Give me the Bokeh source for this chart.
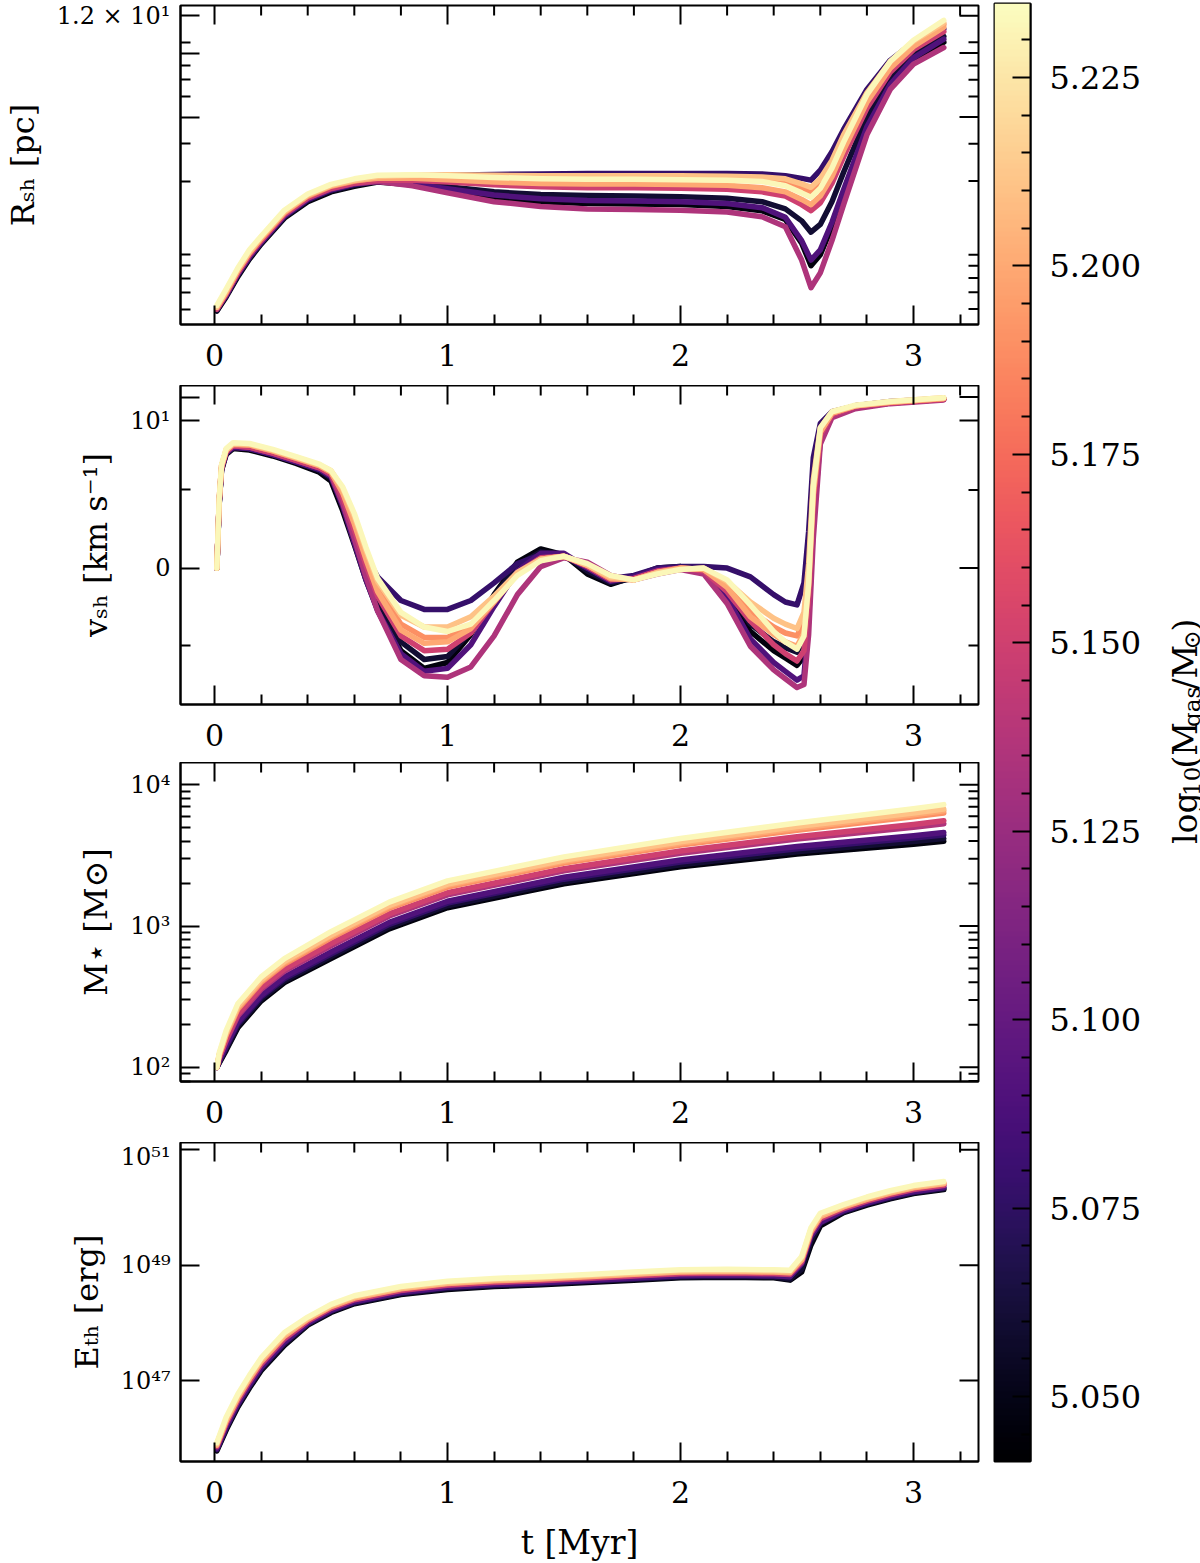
import numpy as np
from math import pi, log10

from bokeh.core.properties import value
from bokeh.embed import file_html
from bokeh.layouts import column, row
from bokeh.models import (ColumnDataSource, FixedTicker, LinearColorMapper,
                          PrintfTickFormatter, Range1d)
from bokeh.palettes import Magma256
from bokeh.plotting import figure
from bokeh.resources import INLINE

SERIF = "DejaVu Serif"

# log10 of the gas mass of each model cloud (one curve per cloud)
log_mgas = [5.046, 5.060, 5.078, 5.090, 5.135, 5.150, 5.190, 5.200, 5.210, 5.232]

# shell radius [pc]
t_rsh = [0.01, 0.05, 0.1, 0.15, 0.2, 0.3, 0.4, 0.5, 0.6, 0.7, 0.85, 1.0, 1.2, 1.4, 1.6,
         1.8, 2.0, 2.2, 2.35, 2.45, 2.52, 2.56, 2.6, 2.65, 2.7, 2.8, 2.9, 3.0, 3.13]
rsh_pc = [
    [0.49, 0.57, 0.71, 0.86, 1.01, 1.34, 1.60, 1.78, 1.89, 1.98, 1.92, 1.80, 1.67, 1.60, 1.57,
     1.56, 1.55, 1.52, 1.45, 1.32, 1.02, 0.80, 0.90, 1.22, 1.75, 3.5, 5.6, 7.4, 9.0],
    [0.49, 0.58, 0.72, 0.87, 1.02, 1.35, 1.62, 1.80, 1.91, 2.00, 1.96, 1.88, 1.78, 1.73, 1.71,
     1.70, 1.69, 1.66, 1.60, 1.48, 1.30, 1.15, 1.25, 1.60, 2.2, 4.0, 6.1, 7.9, 9.6],
    [0.50, 0.58, 0.73, 0.88, 1.03, 1.37, 1.64, 1.82, 1.94, 2.05, 2.10, 2.13, 2.15, 2.16, 2.17,
     2.17, 2.17, 2.17, 2.16, 2.12, 2.06, 2.02, 2.25, 2.75, 3.5, 5.4, 7.4, 9.0, 10.4],
    [0.50, 0.58, 0.73, 0.88, 1.03, 1.37, 1.64, 1.82, 1.93, 1.99, 1.94, 1.84, 1.72, 1.65, 1.62,
     1.61, 1.60, 1.57, 1.50, 1.35, 1.05, 0.85, 0.95, 1.28, 1.82, 3.6, 5.7, 7.6, 9.3],
    [0.50, 0.59, 0.74, 0.90, 1.05, 1.39, 1.66, 1.84, 1.95, 1.99, 1.90, 1.76, 1.60, 1.52, 1.48,
     1.47, 1.46, 1.43, 1.36, 1.22, 0.85, 0.63, 0.74, 1.05, 1.55, 3.3, 5.4, 7.1, 8.5],
    [0.50, 0.59, 0.74, 0.90, 1.05, 1.40, 1.67, 1.85, 1.96, 2.02, 2.02, 1.98, 1.92, 1.88, 1.86,
     1.86, 1.85, 1.83, 1.78, 1.70, 1.55, 1.45, 1.58, 1.95, 2.6, 4.4, 6.5, 8.3, 10.1],
    [0.51, 0.60, 0.76, 0.92, 1.07, 1.42, 1.70, 1.89, 2.00, 2.08, 2.12, 2.12, 2.10, 2.09, 2.09,
     2.09, 2.09, 2.08, 2.05, 1.98, 1.85, 1.76, 1.92, 2.35, 3.1, 5.0, 7.1, 8.9, 10.9],
    [0.51, 0.60, 0.76, 0.92, 1.08, 1.43, 1.71, 1.90, 2.01, 2.06, 2.06, 2.03, 1.98, 1.95, 1.94,
     1.94, 1.93, 1.91, 1.86, 1.78, 1.64, 1.55, 1.70, 2.10, 2.8, 4.7, 6.8, 8.6, 10.6],
    [0.51, 0.61, 0.77, 0.93, 1.09, 1.44, 1.72, 1.91, 2.02, 2.10, 2.13, 2.14, 2.13, 2.12, 2.12,
     2.12, 2.12, 2.11, 2.09, 2.05, 1.94, 1.87, 2.05, 2.50, 3.3, 5.2, 7.3, 9.1, 11.1],
    [0.52, 0.62, 0.78, 0.95, 1.10, 1.46, 1.74, 1.93, 2.05, 2.13, 2.14, 2.12, 2.08, 2.05, 2.04,
     2.04, 2.03, 2.02, 1.99, 1.90, 1.76, 1.68, 1.85, 2.30, 3.05, 5.1, 7.3, 9.2, 11.4],
]

# shell velocity [km/s]
t_vsh = [0.01, 0.02, 0.03, 0.05, 0.08, 0.15, 0.25, 0.35, 0.45,
         0.5, 0.55, 0.6, 0.65, 0.7, 0.8, 0.9, 1.0, 1.1, 1.2, 1.3, 1.4, 1.5, 1.6, 1.7, 1.8, 1.9, 2.0,
         2.1, 2.2, 2.3, 2.4, 2.45, 2.5, 2.53, 2.55, 2.57, 2.6, 2.65, 2.75, 2.9, 3.13]
vsh_kms = [
    [0.0, 4.3, 6.6, 7.7, 8.1, 8.0, 7.6, 7.1, 6.5,
     5.9, 3.9, 1.6, -0.8, -2.8, -5.6, -6.8, -6.4, -4.5, -1.8, 0.4, 1.3, 0.9, -0.4, -1.1, -0.6, 0.0, 0.1,
     -0.3, -1.8, -4.3, -5.6, -6.1, -6.6, -6.0, -2.0, 4.0, 9.0, 10.4, 10.9, 11.2, 11.45],
    [0.0, 4.4, 6.7, 7.8, 8.2, 8.1, 7.7, 7.2, 6.6,
     6.1, 4.3, 2.0, -0.4, -2.4, -5.0, -6.2, -6.0, -4.3, -1.9, 0.2, 1.1, 0.9, -0.2, -1.0, -0.7, -0.1, 0.1,
     -0.2, -1.5, -3.8, -5.0, -5.4, -5.7, -4.8, -1.0, 5.0, 9.2, 10.5, 11.0, 11.25, 11.5],
    [0.0, 4.4, 6.7, 7.8, 8.2, 8.1, 7.7, 7.2, 6.7,
     6.3, 4.8, 2.8, 0.8, -0.6, -2.2, -2.8, -2.8, -2.2, -1.0, 0.3, 0.9, 0.8, 0.0, -0.7, -0.5, 0.0, 0.1,
     0.1, 0.0, -0.6, -1.8, -2.3, -2.5, -1.0, 2.5, 7.5, 9.8, 10.6, 11.0, 11.3, 11.5],
    [0.0, 4.4, 6.7, 7.8, 8.2, 8.1, 7.7, 7.2, 6.7,
     6.2, 4.2, 1.7, -0.8, -2.9, -5.8, -7.0, -6.8, -5.2, -2.6, -0.2, 1.0, 1.0, 0.0, -0.9, -0.6, -0.1, 0.0,
     -0.3, -2.0, -4.8, -6.4, -7.0, -7.6, -7.3, -3.5, 3.0, 8.7, 10.3, 10.9, 11.2, 11.45],
    [0.0, 4.5, 6.8, 7.9, 8.3, 8.2, 7.8, 7.3, 6.8,
     6.3, 4.4, 2.0, -0.6, -2.9, -6.2, -7.3, -7.4, -6.7, -4.6, -1.8, 0.1, 0.7, 0.4, -0.5, -0.8, -0.4, -0.1,
     -0.4, -2.4, -5.3, -6.9, -7.5, -8.1, -7.9, -4.5, 2.0, 8.4, 10.2, 10.8, 11.15, 11.4],
    [0.0, 4.5, 6.8, 7.9, 8.3, 8.2, 7.8, 7.3, 6.8,
     6.4, 4.8, 2.6, 0.2, -1.9, -4.6, -5.6, -5.5, -4.4, -2.3, -0.3, 0.7, 0.8, 0.1, -0.8, -0.7, -0.2, 0.0,
     -0.2, -1.6, -3.6, -5.2, -5.8, -6.3, -5.6, -2.0, 4.5, 9.0, 10.4, 10.95, 11.2, 11.45],
    [0.0, 4.6, 6.9, 8.0, 8.4, 8.35, 7.95, 7.45, 6.95,
     6.5, 5.2, 3.2, 0.8, -1.3, -3.8, -4.7, -4.7, -3.9, -2.2, -0.4, 0.6, 0.8, 0.2, -0.7, -0.8, -0.3, 0.0,
     -0.1, -1.1, -2.9, -4.0, -4.4, -4.6, -3.6, -0.5, 5.5, 9.3, 10.5, 11.0, 11.25, 11.5],
    [0.0, 4.6, 6.9, 8.0, 8.4, 8.35, 7.95, 7.45, 6.95,
     6.5, 5.1, 3.0, 0.6, -1.6, -4.2, -5.1, -5.0, -4.1, -2.3, -0.4, 0.6, 0.8, 0.2, -0.7, -0.8, -0.3, 0.0,
     -0.1, -1.3, -3.3, -4.5, -5.0, -5.3, -4.4, -1.2, 5.0, 9.2, 10.5, 11.0, 11.25, 11.5],
    [0.0, 4.6, 6.9, 8.0, 8.45, 8.4, 8.0, 7.5, 7.0,
     6.6, 5.4, 3.5, 1.2, -0.9, -3.2, -4.0, -4.0, -3.3, -1.9, -0.3, 0.6, 0.8, 0.2, -0.6, -0.8, -0.3, -0.1,
     0.0, -0.9, -2.3, -3.4, -3.8, -4.1, -3.0, 0.3, 6.0, 9.5, 10.6, 11.0, 11.3, 11.55],
    [0.0, 4.7, 7.0, 8.1, 8.5, 8.45, 8.05, 7.55, 7.05,
     6.6, 5.5, 3.7, 1.4, -0.7, -3.0, -4.0, -4.3, -3.8, -2.2, -0.5, 0.5, 0.8, 0.3, -0.5, -0.8, -0.4, -0.1,
     0.0, -0.8, -2.5, -4.3, -5.0, -5.5, -4.6, -1.0, 5.5, 9.5, 10.6, 11.05, 11.3, 11.55],
]

# stellar mass formed [Msun]
t_mstar = [0.01, 0.02, 0.05, 0.1, 0.2, 0.3, 0.5, 0.75, 1.0, 1.5, 2.0, 2.5, 3.0, 3.13]
mstar_msun = [
    [100, 107, 132, 191, 295, 398, 589, 955, 1349, 1995, 2630, 3236, 3802, 3981],
    [100, 108, 135, 197, 304, 410, 608, 987, 1393, 2061, 2722, 3362, 3973, 4164],
    [100, 110, 140, 204, 315, 425, 634, 1029, 1453, 2149, 2843, 3524, 4194, 4407],
    [100, 111, 143, 210, 324, 437, 655, 1062, 1500, 2218, 2938, 3657, 4365, 4590],
    [100, 116, 154, 231, 356, 481, 726, 1178, 1663, 2460, 3280, 4129, 5011, 5311],
    [100, 117, 158, 238, 367, 496, 752, 1219, 1721, 2546, 3403, 4294, 5247, 5573],
    [100, 121, 169, 258, 399, 538, 825, 1337, 1889, 2793, 3750, 4776, 5931, 6310],
    [100, 122, 172, 264, 408, 551, 848, 1374, 1941, 2871, 3856, 4932, 6137, 6545],
    [100, 123, 175, 270, 417, 562, 865, 1403, 1982, 2931, 3945, 5058, 6311, 6744],
    [100, 126, 182, 282, 436, 589, 912, 1479, 2089, 3090, 4169, 5372, 6761, 7244],
]

# thermal energy of the bubble [erg]
t_eth = [0.01, 0.05, 0.1, 0.15, 0.2, 0.3, 0.4, 0.5, 0.6, 0.8, 1.0, 1.2, 1.4, 1.6, 1.8, 2.0,
         2.2, 2.4, 2.47, 2.52, 2.56, 2.6, 2.7, 2.8, 2.9, 3.0, 3.13]
eth_erg = [
    [6.0e45, 1.38e46, 3.47e46, 7.41e46, 1.48e47, 4.07e47, 9.1e47, 1.51e48, 2.14e48, 3.09e48,
     3.80e48, 4.26e48, 4.57e48, 5.01e48, 5.50e48, 6.03e48, 6.16e48, 6.03e48, 5.50e48, 7.59e48,
     2.24e49, 4.79e49, 8.13e49, 1.10e50, 1.41e50, 1.74e50, 2.04e50],
    [6.24e45, 1.45e46, 3.65e46, 7.80e46, 1.56e47, 4.29e47, 9.43e47, 1.57e48, 2.21e48, 3.20e48,
     3.94e48, 4.41e48, 4.73e48, 5.19e48, 5.69e48, 6.24e48, 6.38e48, 6.24e48, 5.75e48, 8.51e48,
     2.63e49, 5.25e49, 8.41e49, 1.14e50, 1.46e50, 1.80e50, 2.11e50],
    [6.46e45, 1.54e46, 3.86e46, 8.24e46, 1.65e47, 4.53e47, 9.76e47, 1.62e48, 2.29e48, 3.31e48,
     4.08e48, 4.57e48, 4.90e48, 5.37e48, 5.89e48, 6.46e48, 6.60e48, 6.46e48, 6.31e48, 1.12e49,
     3.55e49, 5.62e49, 8.71e49, 1.18e50, 1.51e50, 1.86e50, 2.19e50],
    [6.61e45, 1.59e46, 4.00e46, 8.55e46, 1.71e47, 4.70e47, 9.98e47, 1.66e48, 2.34e48, 3.39e48,
     4.17e48, 4.67e48, 5.01e48, 5.50e48, 6.03e48, 6.61e48, 6.75e48, 6.61e48, 6.31e48, 1.05e49,
     3.16e49, 5.50e49, 8.91e49, 1.20e50, 1.55e50, 1.90e50, 2.24e50],
    [7.08e45, 1.78e46, 4.47e46, 9.55e46, 1.91e47, 5.25e47, 1.07e48, 1.78e48, 2.51e48, 3.63e48,
     4.47e48, 5.01e48, 5.37e48, 5.89e48, 6.46e48, 7.08e48, 7.24e48, 7.08e48, 6.92e48, 1.12e49,
     3.55e49, 6.31e49, 9.55e49, 1.29e50, 1.66e50, 2.04e50, 2.40e50],
    [7.24e45, 1.85e46, 4.65e46, 9.93e46, 1.99e47, 5.46e47, 1.09e48, 1.82e48, 2.57e48, 3.71e48,
     4.57e48, 5.13e48, 5.49e48, 6.03e48, 6.61e48, 7.24e48, 7.41e48, 7.24e48, 7.08e48, 1.17e49,
     3.72e49, 6.61e49, 9.77e49, 1.32e50, 1.70e50, 2.09e50, 2.46e50],
    [7.76e45, 2.06e46, 5.19e46, 1.11e47, 2.22e47, 6.09e47, 1.17e48, 1.95e48, 2.75e48, 3.98e48,
     4.90e48, 5.49e48, 5.89e48, 6.46e48, 7.08e48, 7.76e48, 7.94e48, 7.76e48, 7.59e48, 1.26e49,
     3.98e49, 7.08e49, 1.05e50, 1.41e50, 1.82e50, 2.24e50, 2.63e50],
    [7.59e45, 1.99e46, 4.99e46, 1.07e47, 2.13e47, 5.86e47, 1.15e48, 1.91e48, 2.69e48, 3.89e48,
     4.79e48, 5.37e48, 5.76e48, 6.31e48, 6.93e48, 7.59e48, 7.76e48, 7.59e48, 7.41e48, 1.23e49,
     3.89e49, 6.92e49, 1.02e50, 1.38e50, 1.78e50, 2.19e50, 2.57e50],
    [7.94e45, 2.14e46, 5.37e46, 1.15e47, 2.30e47, 6.31e47, 1.20e48, 2.00e48, 2.82e48, 4.07e48,
     5.02e48, 5.62e48, 6.03e48, 6.61e48, 7.25e48, 7.94e48, 8.12e48, 7.94e48, 7.76e48, 1.32e49,
     4.17e49, 7.41e49, 1.07e50, 1.45e50, 1.86e50, 2.29e50, 2.69e50],
    [8.32e45, 2.30e46, 5.77e46, 1.23e47, 2.46e47, 6.77e47, 1.26e48, 2.09e48, 2.95e48, 4.27e48,
     5.25e48, 5.89e48, 6.31e48, 6.92e48, 7.59e48, 8.32e48, 8.51e48, 8.32e48, 8.13e48, 1.41e49,
     4.47e49, 7.94e49, 1.12e50, 1.52e50, 1.95e50, 2.40e50, 2.82e50],
]

# axis ticks and labels
t_major = [0, 1, 2, 3]
t_minor = [0.2, 0.4, 0.6, 0.8, 1.2, 1.4, 1.6, 1.8, 2.2, 2.4, 2.6, 2.8, 3.2]
rsh_major = [4, 8, 12]
rsh_minor = [0.5, 0.6, 0.7, 0.8, 0.9, 2, 3, 5, 6, 7, 9]
rsh_labels = {12: "1.2 × 10¹", 8: "", 4: ""}
vsh_major = [0, 10, 11.6]
vsh_minor = [-5.25, 5.3]
vsh_labels = {0: "0", 10: "10¹", 11.6: ""}
mstar_major = [100, 1000, 10000]
mstar_minor = [80, 90, 200, 300, 400, 500, 600, 700, 800, 900,
               2000, 3000, 4000, 5000, 6000, 7000, 8000, 9000]
mstar_labels = {100: "10²", 1000: "10³", 10000: "10⁴"}
eth_major = [1e47, 1e49, 1e51]
eth_minor = []
eth_labels = {1e47: "10⁴⁷", 1e49: "10⁴⁹", 1e51: "10⁵¹"}
cbar_major = [5.050, 5.075, 5.100, 5.125, 5.150, 5.175, 5.200, 5.225]
cbar_minor = [5.045, 5.055, 5.060, 5.065, 5.070, 5.080, 5.085, 5.090, 5.095, 5.105, 5.110,
              5.115, 5.120, 5.130, 5.135, 5.140, 5.145, 5.155, 5.160, 5.165, 5.170, 5.180,
              5.185, 5.190, 5.195, 5.205, 5.210, 5.215, 5.220, 5.230]
CB_LOW, CB_HIGH = 5.0414, 5.2348

mapper = LinearColorMapper(palette=Magma256, low=CB_LOW, high=CB_HIGH)

FRAME_W, FRAME_H = 798, 319
T_RANGE = (-0.146, 3.279)
MAJOR_LEN, MINOR_LEN = 19, 10


def style_axis(ax, label_size, standoff):
    ax.axis_line_width = 2
    ax.axis_line_color = "black"
    ax.major_tick_in = MAJOR_LEN
    ax.major_tick_out = 0
    ax.minor_tick_in = MINOR_LEN
    ax.minor_tick_out = 0
    ax.major_tick_line_width = 2
    ax.minor_tick_line_width = 2
    ax.major_tick_line_color = "black"
    ax.minor_tick_line_color = "black"
    ax.major_label_text_font = SERIF
    ax.major_label_text_color = "black"
    ax.major_label_text_font_size = label_size
    ax.major_label_standoff = standoff


def mirror_ticks(p, y_rng, y_log, y_major, y_minor):
    """Inward ticks on the top and right frame edges."""
    xa, xb = T_RANGE
    ya, yb = y_rng
    dx = (xb - xa) / FRAME_W

    def below_top(n):
        if y_log:
            return yb / 10 ** (n * (log10(yb) - log10(ya)) / FRAME_H)
        return yb - n * (yb - ya) / FRAME_H

    for ticks, n in ((t_major, MAJOR_LEN), (t_minor, MINOR_LEN)):
        p.segment(x0=ticks, y0=[yb] * len(ticks), x1=ticks, y1=[below_top(n)] * len(ticks),
                  line_color="black", line_width=2)
    for ticks, n in ((y_major, MAJOR_LEN), (y_minor, MINOR_LEN)):
        if not ticks:
            continue
        p.segment(x0=[xb] * len(ticks), y0=ticks, x1=[xb - n * dx] * len(ticks), y1=ticks,
                  line_color="black", line_width=2)


def make_panel(ts, curves, y_range, y_type, y_major, y_minor, y_labels, y_title,
               border_top, border_bottom, x_title=None):
    p = figure(frame_width=FRAME_W, frame_height=FRAME_H,
               x_range=Range1d(*T_RANGE), y_range=Range1d(*y_range),
               y_axis_type=y_type, output_backend="svg", toolbar_location=None,
               min_border_left=179, min_border_right=8,
               min_border_top=border_top, min_border_bottom=border_bottom,
               background_fill_color="white", border_fill_color="white",
               outline_line_color="black", outline_line_width=2)
    p.grid.visible = False

    src = ColumnDataSource(dict(xs=[ts] * len(curves), ys=curves, mgas=log_mgas))
    p.multi_line(xs="xs", ys="ys", source=src, line_width=5.5,
                 line_color={"field": "mgas", "transform": mapper},
                 line_cap="round", line_join="round")
    mirror_ticks(p, y_range, y_type == "log", y_major, y_minor)

    xb = p.xaxis[0]
    xb.ticker = FixedTicker(ticks=t_major, minor_ticks=t_minor)
    style_axis(xb, "30px", 19)
    if x_title:
        xb.axis_label = x_title
        xb.axis_label_text_font = SERIF
        xb.axis_label_text_font_size = "33px"
        xb.axis_label_text_font_style = "normal"
        xb.axis_label_text_color = "black"
        xb.axis_label_standoff = 17

    yl = p.yaxis[0]
    yl.ticker = FixedTicker(ticks=y_major, minor_ticks=y_minor)
    yl.formatter = PrintfTickFormatter(format="%g")
    yl.major_label_overrides = y_labels
    style_axis(yl, "24px", 10)
    yl.axis_label = y_title
    yl.axis_label_text_font = SERIF
    yl.axis_label_text_font_size = "32px"
    yl.axis_label_text_font_style = "normal"
    yl.axis_label_text_color = "black"
    yl.axis_label_standoff = 12
    return p


p_r = make_panel(t_rsh, rsh_pc, (0.423, 13.4), "log", rsh_major, rsh_minor, rsh_labels,
                 "Rₛₕ [pc]", 5, 61)
p_v = make_panel(t_vsh, vsh_kms, (-9.25, 12.38), "linear", vsh_major, vsh_minor, vsh_labels,
                 "vₛₕ [km s⁻¹]", 0, 58)
p_m = make_panel(t_mstar, mstar_msun, (79.4, 14390), "log", mstar_major, mstar_minor,
                 mstar_labels, "M⋆ [M⊙]", 0, 61)
p_e = make_panel(t_eth, eth_erg, (3.94e45, 1.34e51), "log", eth_major, eth_minor, eth_labels,
                 "Eₜₕ [erg]", 0, 102, x_title="t [Myr]")

TOTAL_H = 1563

# colour bar for the gas mass
cb = figure(frame_width=36, frame_height=1458, x_range=Range1d(0, 1),
            y_range=Range1d(CB_LOW, CB_HIGH), min_border_left=8, min_border_right=122,
            min_border_top=3, min_border_bottom=TOTAL_H - 3 - 1458,
            x_axis_location=None, y_axis_location="right", toolbar_location=None,
            output_backend="svg", outline_line_color="black", outline_line_width=2,
            background_fill_color="white", border_fill_color="white")
cb.grid.visible = False
levels = np.linspace(CB_LOW, CB_HIGH, 600).reshape(-1, 1)
cb.image(image=[levels], x=0, y=CB_LOW, dw=1, dh=CB_HIGH - CB_LOW, color_mapper=mapper)
ya = cb.yaxis[0]
ya.ticker = FixedTicker(ticks=cbar_major, minor_ticks=cbar_minor)
ya.formatter = PrintfTickFormatter(format="%.3f")
style_axis(ya, "32px", 19)
ya.major_tick_in = 18
ya.minor_tick_in = 9

# rotated colour-bar title, built from pieces so the subscripts sit low
LAB_W = 49
lab = figure(width=LAB_W, height=TOTAL_H, x_range=Range1d(0, LAB_W), y_range=Range1d(0, TOTAL_H),
             min_border=0, x_axis_location=None, y_axis_location=None, toolbar_location=None,
             output_backend="svg", outline_line_color=None,
             background_fill_color="white", border_fill_color="white")
lab.grid.visible = False
title_parts = ["log", "10", "(M", "gas", "/M", "⊙", ")"]
title_is_sub = [False, True, False, True, False, True, False]
part_len = [51.5, 29.3, 44.6, 40.2, 42.8, 19.3, 12.9]
y0 = 662.0
main_x, main_y, main_t, sub_x, sub_y, sub_t = [], [], [], [], [], []
for txt, sub, ln in zip(title_parts, title_is_sub, part_len):
    if sub:
        sub_x.append(39); sub_y.append(y0); sub_t.append(txt)
    else:
        main_x.append(33); main_y.append(y0); main_t.append(txt)
    y0 += ln
lab.text(x=main_x, y=main_y, text=main_t, angle=pi / 2, text_font=value(SERIF),
         text_font_size=value("33px"), text_align="left", text_baseline="alphabetic",
         text_color="black")
lab.text(x=sub_x, y=sub_y, text=sub_t, angle=pi / 2, text_font=value(SERIF),
         text_font_size=value("23px"), text_align="left", text_baseline="alphabetic",
         text_color="black")

layout = row(column(p_r, p_v, p_m, p_e), cb, lab)

with open("out.html", "w") as f:
    f.write(file_html(layout, INLINE, title="Shell evolution"))
